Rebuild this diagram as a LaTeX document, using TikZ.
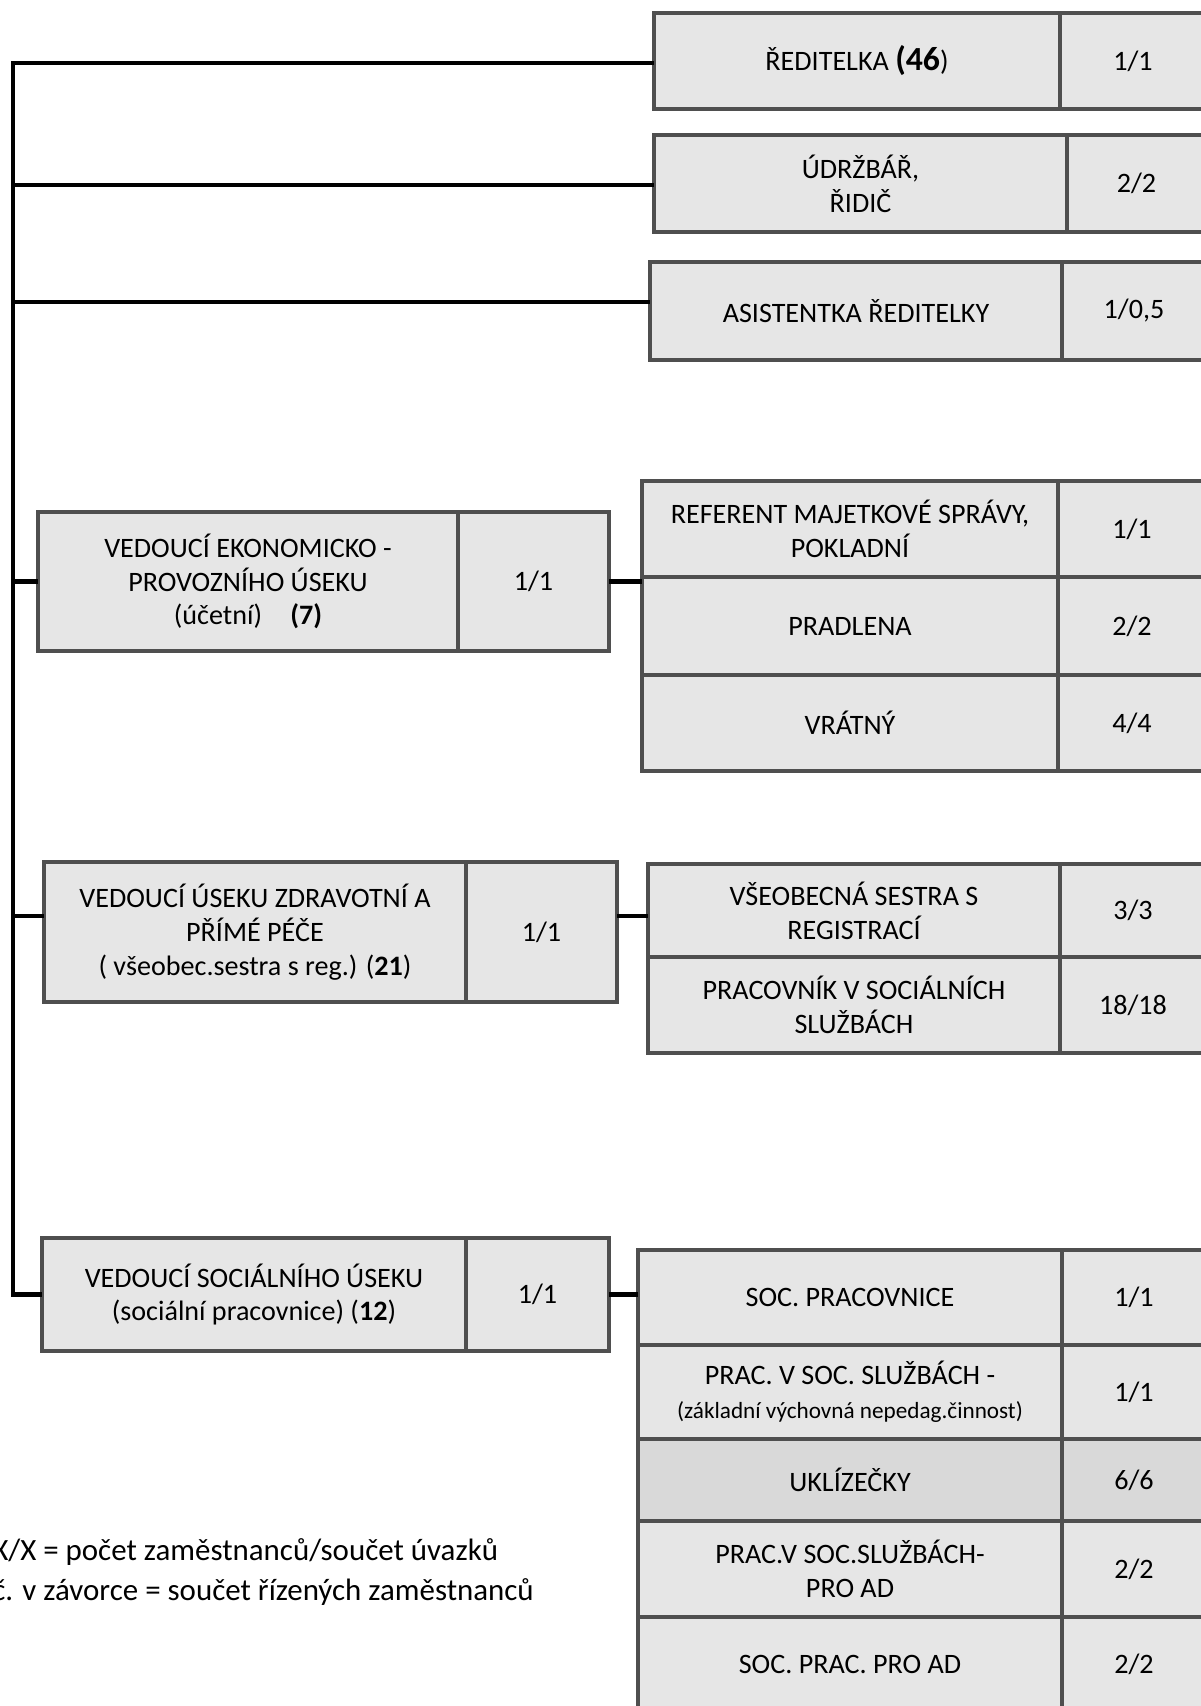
\documentclass[tikz,border=0pt]{standalone}
\usepackage{fontspec}
\setmainfont{Carlito}
\usetikzlibrary{positioning, calc}
\definecolor{rgray1}{HTML}{E6E6E6}
\definecolor{rgray2}{HTML}{D9D9D9}
\definecolor{rgray3}{HTML}{4F4F4F}
\tikzset{
    cell/.style 2 args={draw=rgray3, fill=rgray1, line width=1mm, align=center,
        minimum width=#1*0.25mm, minimum height=#2*0.25mm, inner sep=1pt, outer sep=0pt,
        font=\fontsize{20}{24}\selectfont},
    link/.style={draw=black, line width=1.1mm}
}
\begin{document}
\begin{tikzpicture}[x=0.25mm, y=-0.25mm]

        \useasboundingbox (0,0) rectangle (1201,1706);
        \fill[white] (0,0) rectangle (1201,1706);

        \node[cell={406}{96}] (dir) at (857,61) {ŘEDITELKA {\fontsize{24}{24}\selectfont\bfseries(46})};
        \node[cell={146}{96}] (dirn) at (1133,61) {1/1};

        \node[cell={413}{97}] (udr) at (860.5,183.5) {ÚDRŽBÁŘ,\\ŘIDIČ};
        \node[cell={139}{97}] (udrn) at (1136.5,183.5) {2/2};

        \node[cell={412}{98}] (asi) at (856,311) {ASISTENTKA ŘEDITELKY};
        \node[cell={144}{98}] (asin) at (1134,311) {1/0,5};

        
        \node[cell={420}{139}] (eko) at (248,581.5) {VEDOUCÍ EKONOMICKO -\\PROVOZNÍHO ÚSEKU\\(účetní)\quad\textbf{(7)}};
        \node[cell={151}{139}] (ekon) at (533.5,581.5) {1/1};

        \node[cell={416}{96}] (ref) at (850,529) {REFERENT MAJETKOVÉ SPRÁVY,\\POKLADNÍ};
        \node[cell={148}{96}] (refn) at (1132,529) {1/1};
        \node[cell={416}{98}] (prad) at (850,626) {PRADLENA};
        \node[cell={148}{98}] (pradn) at (1132,626) {2/2};
        \node[cell={416}{96}] (vrat) at (850,723) {VRÁTNÝ};
        \node[cell={148}{96}] (vratn) at (1132,723) {4/4};

        
        \node[cell={422}{140}] (zdr) at (255,932) {VEDOUCÍ ÚSEKU ZDRAVOTNÍ A\\PŘÍMÉ PÉČE\\( všeobec.sestra s reg.) (\textbf{21})};
        \node[cell={151}{140}] (zdrn) at (541.5,932) {1/1};

        \node[cell={412}{93}] (ses) at (854,910.5) {VŠEOBECNÁ SESTRA S\\REGISTRACÍ};
        \node[cell={146}{93}] (sesn) at (1133,910.5) {3/3};
        \node[cell={412}{96}] (prc) at (854,1005) {PRACOVNÍK V SOCIÁLNÍCH\\SLUŽBÁCH};
        \node[cell={146}{96}] (prcn) at (1133,1005) {18/18};

        
        \node[cell={424}{113}] (soc) at (254,1294.5) {VEDOUCÍ SOCIÁLNÍHO ÚSEKU\\(sociální pracovnice) (\textbf{12})};
        \node[cell={143}{113}] (socn) at (537.5,1294.5) {1/1};

        \node[cell={424}{95}] (socp) at (850,1297.5) {SOC. PRACOVNICE};
        \node[cell={144}{95}] (socpn) at (1134,1297.5) {1/1};
        \node[cell={424}{94}] (pss) at (850,1392) {PRAC. V SOC. SLUŽBÁCH -\\{\fontsize{16.5}{19}\selectfont (základní výchovná nepedag.činnost)}};
        \node[cell={144}{94}] (pssn) at (1134,1392) {1/1};
        \node[cell={424}{82}, fill=rgray2] (ukl) at (850,1480) {UKLÍZEČKY};
        \node[cell={144}{82}, fill=rgray2] (ukln) at (1134,1480) {6/6};
        \node[cell={424}{96}] (pad) at (850,1569) {PRAC.V SOC.SLUŽBÁCH-\\PRO AD};
        \node[cell={144}{96}] (padn) at (1134,1569) {2/2};
        \node[cell={424}{95}] (spa) at (850,1664.5) {SOC. PRAC. PRO AD};
        \node[cell={144}{95}] (span) at (1134,1664.5) {2/2};

        
        \coordinate (t1) at (13,63);
        \coordinate (t2) at (13,185);
        \coordinate (t3) at (13,302);
        \coordinate (zlev) at (13,916);

        \draw[link] (t1 -| dir.west) -- (t1) |- (soc.west);
        \draw[link] (t2) -- (t2 -| udr.west);
        \draw[link] (t3) -- (t3 -| asi.west);
        \draw[link] (eko.west -| t1) -- (eko.west);
        \draw[link] (zlev) -- (zlev -| zdr.west);

        \draw[link] (ekon.east) -- (ekon.east -| prad.west);
        \draw[link] (zlev -| zdrn.east) -- (zlev -| ses.west);
        \draw[link] (socn.east) -- (socn.east -| socp.west);

        
        \node[anchor=west, align=left, inner sep=0pt, font=\fontsize{22}{28.5}\selectfont] (legend) at (-8,1572)
            {X/X = počet zaměstnanců/součet úvazků\\č. v závorce = součet řízených zaměstnanců};

\end{tikzpicture}
\end{document}
